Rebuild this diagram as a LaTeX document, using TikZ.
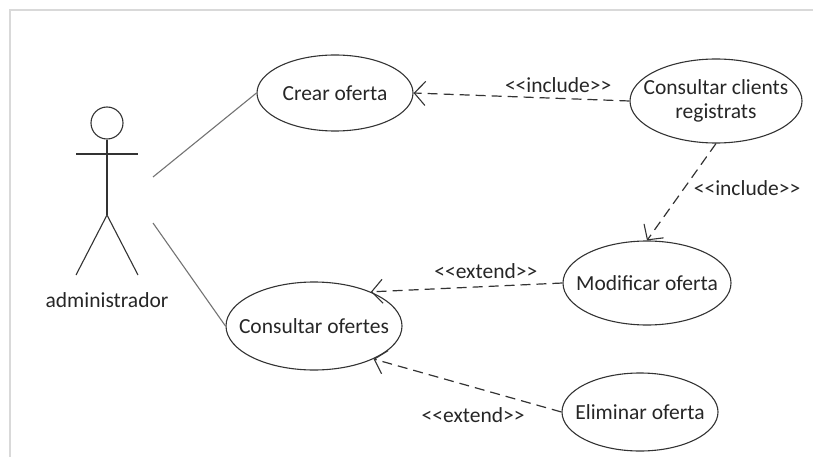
\documentclass[tikz,border=0pt]{standalone}
\usepackage{fontspec}
\setmainfont{Carlito}
\usetikzlibrary{shapes.geometric,arrows.meta}

\tikzset{
  uc/.style 2 args={ellipse,draw=black!80,line width=1.1pt,minimum width=#1,minimum height=#2,
    inner xsep=-14pt,inner ysep=0pt,text=black!85,align=center},
  assoc/.style={draw=black!55,line width=1.1pt},
  dep/.style={draw=black!80,line width=1.2pt,dash pattern=on 10pt off 6pt,
    -{Straight Barb[length=11pt,width=24pt,line width=1.1pt]}},
  lbl/.style={text=black!85,inner sep=2pt},
  limb/.style={draw=black!80,line width=1.1pt}
}

\begin{document}
\begin{tikzpicture}[x=1pt,y=-1pt,font=\fontsize{21.5}{24}\selectfont]
\useasboundingbox (0,0) rectangle (813,457);
\draw[black!15,line width=2pt] (10,457) -- (10,10) -- (813,10);

% actor
\node (head) [circle,limb,minimum size=32pt,inner sep=0pt] at (107,123) {};
\coordinate (hip) at (107,215);
\coordinate (lhand) at (76,154);
\coordinate (rhand) at (138,154);
\coordinate (lfoot) at (76,275);
\coordinate (rfoot) at (138,275);
\draw[limb] (head.south) -- (hip);
\draw[limb] (lhand) -- (rhand);
\draw[limb] (lfoot) -- (hip) -- (rfoot);
\node (admin) [lbl] at (107,300) {administrador};

% use cases
\node (crear) [uc={156pt}{76pt}] at (335,93) {Crear oferta};
\node (clients) [uc={172pt}{84pt}] at (716,101) {Consultar clients\\registrats};
\node (modif) [uc={168pt}{84pt}] at (647,283) {Modificar oferta};
\node (ofertes) [uc={176pt}{88pt}] at (314,326) {Consultar ofertes};
\node (elim) [uc={156pt}{78pt}] at (640,412) {Eliminar oferta};

% associations
\coordinate (a1) at (153,177);
\coordinate (a2) at (153,223);
\draw[assoc] (a1) -- (crear.west);
\draw[assoc] (a2) -- (ofertes.west);

% dependencies
\draw[dep] (clients.west) -- node[lbl,above=3pt,pos=0.33] {<{}<include>{}>} (crear.east);
\draw[dep] (clients.south) -- node[lbl,right=7pt,pos=0.46] {<{}<include>{}>} (modif.north);
\draw[dep] (modif.west) -- node[lbl,above=5pt,pos=0.4] {<{}<extend>{}>} (ofertes.31);
\draw[dep] (elim.west) -- node[lbl,below=18pt,pos=0.47] {<{}<extend>{}>} (ofertes.331);
\end{tikzpicture}
\end{document}
